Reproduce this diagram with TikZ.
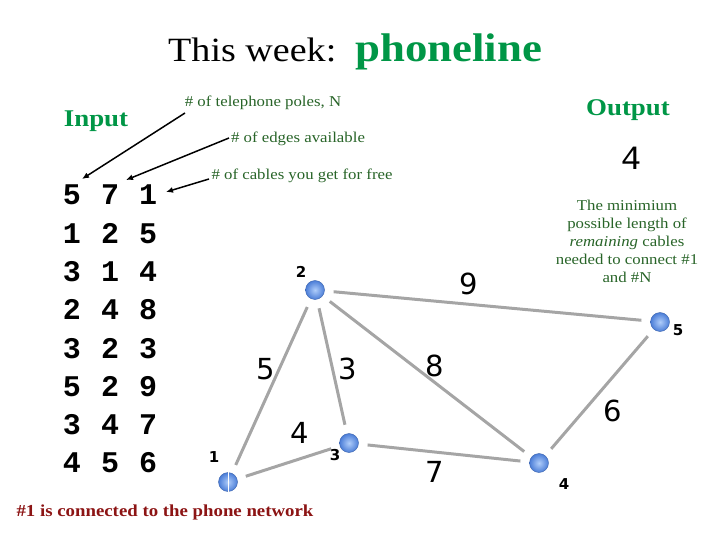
\documentclass[tikz,border=0pt]{standalone}
\usepackage{fontspec}
\setmainfont{Liberation Serif}
\newfontfamily\monob{Liberation Mono}
\newfontfamily\djv{DejaVu Sans}
\newfontfamily\wideserif[FakeStretch=1.12]{Liberation Serif}
\usetikzlibrary{arrows.meta}
\definecolor{titlegreen}{RGB}{0,150,70}
\definecolor{notegreen}{RGB}{40,100,40}
\definecolor{edgegray}{RGB}{165,165,165}
\definecolor{ballin}{RGB}{175,205,250}
\definecolor{ballout}{RGB}{75,125,215}
\definecolor{darkred}{RGB}{140,20,20}
\tikzset{
  pole/.style={circle,minimum size=19pt,inner sep=0pt,draw=ballout!80!black,line width=0.4pt,
    shading=radial,inner color=ballin,outer color=ballout},
  cable/.style={draw=edgegray,line width=3pt,shorten <=9pt,shorten >=9pt},
  note/.style={text=notegreen,font=\wideserif\fontsize{15}{18}\selectfont,inner sep=0pt},
  matnum/.style={font=\monob\bfseries\fontsize{30}{30}\selectfont,inner sep=0pt},
  elabel/.style={font=\djv\fontsize{29}{29}\selectfont,inner sep=0pt},
  plabel/.style={font=\djv\bfseries\fontsize{15}{15}\selectfont,inner sep=0pt},
  pointer/.style={-{Latex[length=7pt,width=6pt]},line width=1.5pt},
}
\begin{document}
\begin{tikzpicture}[x=1pt,y=-1pt]
\useasboundingbox (0,0) rectangle (720,540);
% title
\node[anchor=base west,inner sep=0pt,font=\wideserif\fontsize{34}{34}\selectfont] (t1) at (168,62) {This week:};
\node[anchor=base west,inner sep=0pt,font=\wideserif\bfseries\fontsize{40}{40}\selectfont,text=titlegreen] (t2) at (355,62) {phoneline};
% input / output
\node[inner sep=0pt,font=\wideserif\bfseries\fontsize{24}{24}\selectfont,text=titlegreen] (in) at (96,121) {Input};
\node[inner sep=0pt,font=\wideserif\bfseries\fontsize{24}{24}\selectfont,text=titlegreen] (out) at (628,110) {Output};
\node[inner sep=0pt,font=\monob\fontsize{34}{34}\selectfont] (res) at (631,158) {4};
% annotations
\node[note] (n1) at (263,103) {\# of telephone poles, N};
\node[note] (n2) at (298,139) {\# of edges available};
\node[note] (n3) at (302,176) {\# of cables you get for free};
\node[note,align=center,font=\wideserif\fontsize{15}{18}\selectfont] (outnote) at (627,241) {The minimium\\possible length of\\\textit{remaining} cables\\needed to connect \#1\\and \#N};
% matrix
\foreach \r [count=\i from 0] in {{5,7,1},{1,2,5},{3,1,4},{2,4,8},{3,2,3},{5,2,9},{3,4,7},{4,5,6}}{
  \foreach \v [count=\j from 0] in \r {
    \node[matnum] (m\i\j) at ({72+38*\j},{195+38.3*\i}) {\v};
  }
}
\coordinate (a1s) at (185,113); \coordinate (a1e) at (82,179);
\coordinate (a2s) at (229,138); \coordinate (a2e) at (126,180);
\coordinate (a3s) at (209,179); \coordinate (a3e) at (166,192);
\draw[pointer] (a1s) -- (a1e);
\draw[pointer] (a2s) -- (a2e);
\draw[pointer] (a3s) -- (a3e);
% graph
\node[pole] (p1) at (228,482) {};
\node[pole] (p2) at (315,290) {};
\node[pole] (p3) at (349,443) {};
\node[pole] (p4) at (539,463) {};
\node[pole] (p5) at (660,322) {};
\draw[white,line width=1pt] (p1.north) -- (p1.south);
\draw[cable] (p1) -- (p2);
\draw[cable] (p1) -- (p3);
\draw[cable] (p2) -- (p3);
\draw[cable] (p2) -- (p4);
\draw[cable] (p2) -- (p5);
\draw[cable] (p3) -- (p4);
\draw[cable] (p4) -- (p5);
\node[plabel] (l1) at (214,457) {1};
\node[plabel] (l2) at (301,272) {2};
\node[plabel] (l3) at (335,455) {3};
\node[plabel] (l4) at (564,484) {4};
\node[plabel] (l5) at (678,330) {5};
\node[elabel] (e12) at (266,369) {5};
\node[elabel] (e23) at (348,369) {3};
\node[elabel] (e24) at (435,366) {8};
\node[elabel] (e25) at (469,284) {9};
\node[elabel] (e13) at (300,433) {4};
\node[elabel] (e34) at (435,472) {7};
\node[elabel] (e45) at (613,411) {6};
% bottom note
\node[inner sep=0pt,font=\wideserif\bfseries\fontsize{16.8}{16.8}\selectfont,text=darkred] (bottom) at (165,512) {\#1 is connected to the phone network};
\end{tikzpicture}
\end{document}
